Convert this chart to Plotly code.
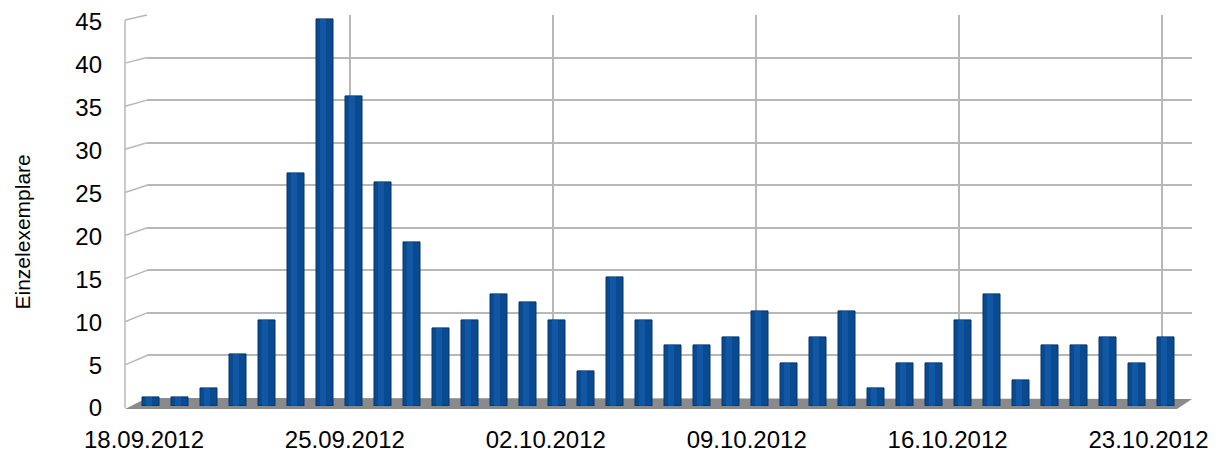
import plotly.graph_objects as go

dates = ["18.09.2012", "19.09.2012", "20.09.2012", "21.09.2012", "22.09.2012", "23.09.2012",
         "24.09.2012", "25.09.2012", "26.09.2012", "27.09.2012", "28.09.2012", "29.09.2012",
         "30.09.2012", "01.10.2012", "02.10.2012", "03.10.2012", "04.10.2012", "05.10.2012",
         "06.10.2012", "07.10.2012", "08.10.2012", "09.10.2012", "10.10.2012", "11.10.2012",
         "12.10.2012", "13.10.2012", "14.10.2012", "15.10.2012", "16.10.2012", "17.10.2012",
         "18.10.2012", "19.10.2012", "20.10.2012", "21.10.2012", "22.10.2012", "23.10.2012"]
values = [1, 1, 2, 6, 10, 27, 45, 36, 26, 19, 9, 10, 13, 12, 10, 4, 15, 10,
          7, 7, 8, 11, 5, 8, 11, 2, 5, 5, 10, 13, 3, 7, 7, 8, 5, 8]
tick_labels = ["18.09.2012", "25.09.2012", "02.10.2012", "09.10.2012", "16.10.2012", "23.10.2012"]
y_ticks = [0, 5, 10, 15, 20, 25, 30, 35, 40, 45]
y_title = "Einzelexemplare"

# page body has an 8px margin; size the figure so it fits the 1230x456 window
OFF = 8
W, H = 1230 - OFF, 456 - OFF
def fx(px):
    return (px - OFF) / W
def fy(py):
    return 1 - (py - OFF) / H

FONT = "Liberation Sans, Arial, sans-serif"
GRID = "#b8b8b8"

fig = go.Figure()

# back wall (grid) axes
fig.add_trace(go.Scatter(x=dates, y=values, mode="markers", marker=dict(opacity=0),
                         hoverinfo="skip", showlegend=False, xaxis="x", yaxis="y"))
# bars (front)
fig.add_trace(go.Bar(x=dates, y=values, width=0.6, marker=dict(color="#0a4a90",
                     line=dict(color="#04346a", width=1)),
                     showlegend=False, xaxis="x2", yaxis="y2"))
fig.add_trace(go.Bar(x=dates, y=values, width=0.22, offset=-0.2,
                     marker=dict(color="#1a62b4", opacity=0.55, line=dict(width=0)),
                     showlegend=False, hoverinfo="skip", xaxis="x2", yaxis="y2"))
# label axes
fig.add_trace(go.Scatter(x=dates, y=values, mode="markers", marker=dict(opacity=0),
                         hoverinfo="skip", showlegend=False, xaxis="x3", yaxis="y3"))

back_y0, back_y45 = 398, 15
front_y0, front_y45 = 408, 20
bar_y0, bar_y45 = 406, 19
bar_top = 46
bar_top_px = bar_y0 - bar_top * (bar_y0 - bar_y45) / 45

shapes = []
# floor
shapes.append(dict(type="path", xref="paper", yref="paper",
                   path=f"M {fx(125)},{fy(409)} L {fx(1177)},{fy(409)} L {fx(1192)},{fy(399)} L {fx(147)},{fy(398)} Z",
                   fillcolor="#8a8a8a", line=dict(width=0), layer="below"))
# left wall edges
shapes.append(dict(type="line", xref="paper", yref="paper", x0=fx(125), x1=fx(125),
                   y0=fy(front_y0), y1=fy(front_y45), line=dict(color=GRID, width=1.5), layer="below"))
for v in y_ticks[1:]:
    yf = front_y0 - v * (front_y0 - front_y45) / 45
    yb = back_y0 - v * (back_y0 - back_y45) / 45
    shapes.append(dict(type="line", xref="paper", yref="paper", x0=fx(125), x1=fx(147),
                       y0=fy(yf), y1=fy(yb), line=dict(color=GRID, width=1.5), layer="below"))

fig.update_layout(
    width=W, height=H, autosize=False,
    margin=dict(l=0, r=0, t=0, b=0, pad=0),
    paper_bgcolor="white", plot_bgcolor="rgba(0,0,0,0)",
    barmode="overlay", bargap=0,
    font=dict(family=FONT, size=24, color="#000000"),
    shapes=shapes,
    xaxis=dict(domain=[fx(147), fx(1192)], type="category", categoryorder="array",
               categoryarray=dates, range=[0, 36.03], tickvals=tick_labels,
               showgrid=True, gridcolor=GRID, gridwidth=1.5, showticklabels=False,
               zeroline=False, showline=False, anchor="y", fixedrange=True, automargin=False),
    yaxis=dict(domain=[fy(back_y0), fy(back_y45)], range=[0, 45], tickvals=y_ticks,
               showgrid=True, gridcolor=GRID, gridwidth=1.5, showticklabels=False,
               zeroline=False, showline=False, anchor="x", automargin=False),
    xaxis2=dict(domain=[fx(136.5), fx(1180.5)], type="category", categoryorder="array",
                categoryarray=dates, range=[-0.5, 35.5], showgrid=False,
                showticklabels=False, zeroline=False, showline=False, anchor="y2",
                automargin=False),
    yaxis2=dict(domain=[fy(bar_y0), fy(bar_top_px)], range=[0, bar_top],
                showgrid=False, zeroline=False, showline=False, showticklabels=False,
                anchor="x2", automargin=False),
    yaxis3=dict(domain=[fy(front_y0), fy(22)], range=[0, 45], tickvals=y_ticks,
                showgrid=False, zeroline=False, showline=False, ticks="",
                anchor="free", position=fx(102), automargin=False,
                tickfont=dict(family=FONT, size=24, color="#000000")),
    xaxis3=dict(domain=[fx(129.65), fx(1162.85)], type="category", categoryorder="array",
                categoryarray=dates, range=[-0.5, 35.5], tickvals=tick_labels,
                ticktext=tick_labels, showgrid=False, zeroline=False, showline=False,
                ticks="", ticklabelstandoff=15, anchor="y3", automargin=False,
                tickfont=dict(family=FONT, size=24, color="#000000")),
    annotations=[dict(text=y_title, xref="paper", yref="paper", x=fx(9), y=fy(232),
                      xanchor="left", yanchor="middle", borderpad=0,
                      textangle=-90, showarrow=False,
                      font=dict(family=FONT, size=21, color="#000000"))],
)

fig.write_html("out.html")
